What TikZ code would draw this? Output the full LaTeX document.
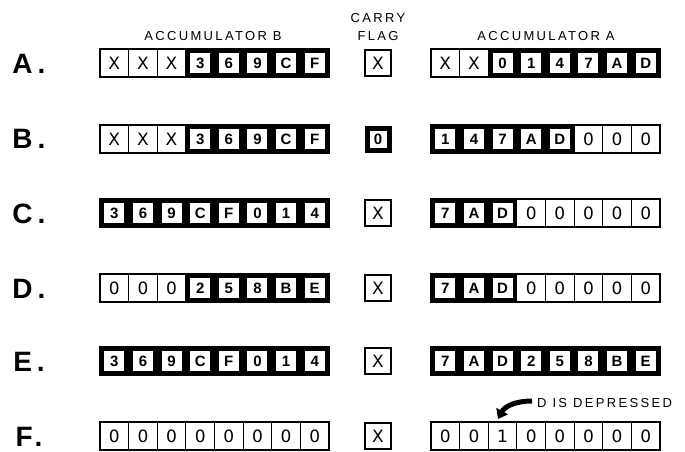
\documentclass[tikz,border=0pt]{standalone}
\usepackage{fontspec}
\setmainfont{Liberation Sans}
\newfontfamily\hdrfont[LetterSpace=18]{Liberation Sans}
\newfontfamily\cellfont{DejaVu Sans}
\newfontfamily\lblfont[LetterSpace=18]{Liberation Sans}
\usetikzlibrary{arrows.meta}
\tikzset{
  plaincell/.style={draw, line width=1pt, fill=white, minimum width=28.6pt, minimum height=28pt, inner sep=0pt, font=\cellfont\fontsize{17}{17}\selectfont},
  boldcell/.style={fill=black, draw=black, line width=0.8pt, minimum width=28.6pt, minimum height=28pt, inner sep=0pt},
  boldface/.style={fill=white, minimum width=20pt, minimum height=19.5pt, inner sep=0pt, font=\bfseries\fontsize{15}{15}\selectfont},
  regframe/.style={draw, line width=2.8pt},
  hdr/.style={font=\hdrfont\fontsize{13}{13}\selectfont, inner sep=0pt},
  rowlbl/.style={font=\lblfont\bfseries\fontsize{28}{28}\selectfont, inner sep=0pt},
}
\newcommand\register[4]{%
  \foreach \t/\k [count=\i] in {#4} {
    \pgfmathsetmacro\cx{#2+14.3125+(\i-1)*28.625}
    \ifnum\k=1
      \node[boldcell] (#1\i) at (\cx,#3) {};
      \node[boldface] (#1\i t) at (#1\i) {\t};
    \else
      \node[plaincell] (#1\i) at (\cx,#3) {\t};
    \fi
  }
  \draw[regframe] (#2,#3-14) rectangle ++(229,28);
}
\begin{document}
\begin{tikzpicture}[x=1pt,y=-1pt]
\useasboundingbox (0,0) rectangle (685,451);
% headers
\node[hdr] (hB) at (213,36) {ACCUMULATOR B};
\node[hdr] (hC1) at (378,18) {CARRY};
\node[hdr] (hC2) at (378,36) {FLAG};
\node[hdr] (hA) at (546,36) {ACCUMULATOR A};
% row labels
\node[rowlbl] (lA) at (29,64) {A.};
\node[rowlbl] (lB) at (29,139) {B.};
\node[rowlbl] (lC) at (29,214) {C.};
\node[rowlbl] (lD) at (29,289) {D.};
\node[rowlbl] (lE) at (29,362) {E.};
\node[rowlbl] (lF) at (29,437) {F.};
% accumulator B
\register{bA}{100}{63}{X/0,X/0,X/0,3/1,6/1,9/1,C/1,F/1}
\register{bB}{100}{139}{X/0,X/0,X/0,3/1,6/1,9/1,C/1,F/1}
\register{bC}{100}{213}{3/1,6/1,9/1,C/1,F/1,0/1,1/1,4/1}
\register{bD}{100}{288}{0/0,0/0,0/0,2/1,5/1,8/1,B/1,E/1}
\register{bE}{100}{361}{3/1,6/1,9/1,C/1,F/1,0/1,1/1,4/1}
\register{bF}{100}{436}{0/0,0/0,0/0,0/0,0/0,0/0,0/0,0/0}
% accumulator A
\register{aA}{431}{63}{X/0,X/0,0/1,1/1,4/1,7/1,A/1,D/1}
\register{aB}{431}{139}{1/1,4/1,7/1,A/1,D/1,0/0,0/0,0/0}
\register{aC}{431}{213}{7/1,A/1,D/1,0/0,0/0,0/0,0/0,0/0}
\register{aD}{431}{288}{7/1,A/1,D/1,0/0,0/0,0/0,0/0,0/0}
\register{aE}{431}{361}{7/1,A/1,D/1,2/1,5/1,8/1,B/1,E/1}
\register{aF}{431}{436}{0/0,0/0,1/0,0/0,0/0,0/0,0/0,0/0}
% carry flags
\node[plaincell, minimum width=26pt, minimum height=26pt, line width=2pt] (cA) at (378,63) {X};
\node[boldcell, minimum width=26pt, minimum height=26pt] (cB) at (378,139) {};
\node[boldface, minimum width=17pt, minimum height=17pt] (cBt) at (cB) {0};
\node[plaincell, minimum width=26pt, minimum height=26pt, line width=2pt] (cC) at (378,213) {X};
\node[plaincell, minimum width=26pt, minimum height=26pt, line width=2pt] (cD) at (378,288) {X};
\node[plaincell, minimum width=26pt, minimum height=26pt, line width=2pt] (cE) at (378,361) {X};
\node[plaincell, minimum width=26pt, minimum height=26pt, line width=2pt] (cF) at (378,436) {X};
% note
\node[hdr, anchor=west] (dep) at (537,403) {D IS DEPRESSED};
\coordinate (arrS) at (532,401);
\coordinate (arrE) at (498,419);
\draw[line width=5pt, -{Triangle[length=9pt,width=13pt]}] (arrS) .. controls (516,401) and (505,406) .. (arrE);
\end{tikzpicture}
\end{document}
